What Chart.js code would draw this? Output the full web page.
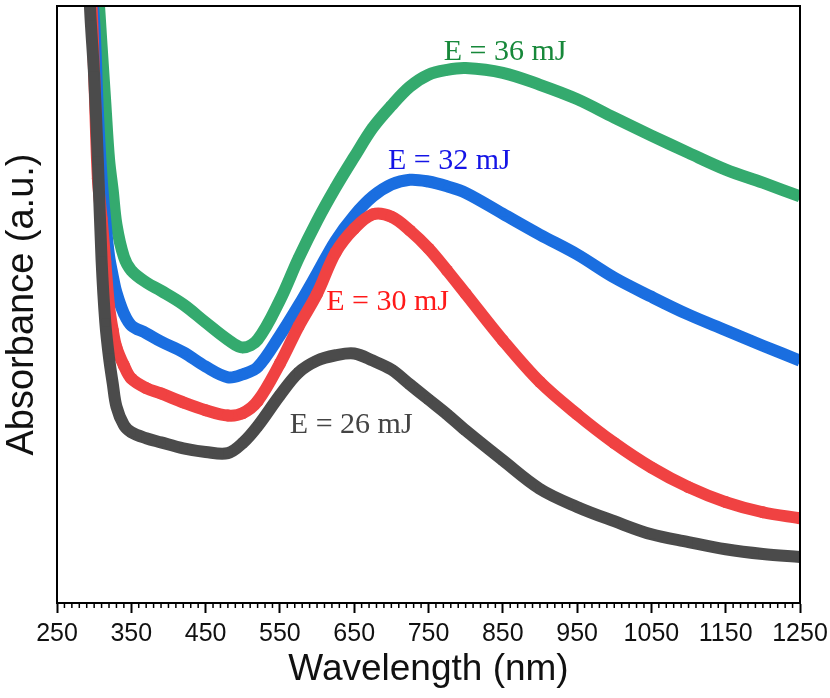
<!DOCTYPE html>
<html>
<head>
<meta charset="utf-8">
<script src="https://cdn.jsdelivr.net/npm/chart.js@4.4.1/dist/chart.umd.min.js"></script>
<style>
  html, body { margin: 0; padding: 0; background: #fff; }
  canvas { display: block; }
</style>
</head>
<body>
<canvas id="uvvis" width="830" height="698"></canvas>
<script>
// wavelength (nm) shared by all spectra
const wavelength = [290, 295, 300, 305, 310, 315, 320, 325, 330, 340, 350, 370, 390, 420, 450, 480, 500, 520, 550, 575,
  600, 625, 650, 675, 700, 725, 750, 775, 800, 850, 900, 950, 1000, 1050, 1100, 1150, 1200, 1250];

// absorbance (a.u.)
const abs26 = [1.109, 0.983, 0.883, 0.741, 0.574, 0.470, 0.411, 0.368, 0.329, 0.298, 0.286, 0.276, 0.269, 0.259, 0.253, 0.251, 0.268, 0.296, 0.348, 0.386,
  0.406, 0.415, 0.418, 0.406, 0.391, 0.366, 0.341, 0.316, 0.289, 0.239, 0.191, 0.161, 0.137, 0.115, 0.102, 0.090, 0.082, 0.077];
const abs30 = [1.075, 1.033, 0.886, 0.711, 0.644, 0.572, 0.498, 0.457, 0.428, 0.398, 0.376, 0.360, 0.351, 0.336, 0.323, 0.314, 0.318, 0.338, 0.401, 0.463,
  0.518, 0.587, 0.627, 0.651, 0.647, 0.624, 0.594, 0.557, 0.518, 0.440, 0.370, 0.316, 0.268, 0.227, 0.194, 0.169, 0.152, 0.142];
const abs32 = [1.109, 1.042, 0.975, 0.824, 0.712, 0.640, 0.582, 0.548, 0.520, 0.485, 0.465, 0.452, 0.438, 0.420, 0.396, 0.378, 0.383, 0.395, 0.448, 0.498,
  0.552, 0.607, 0.649, 0.681, 0.701, 0.709, 0.706, 0.698, 0.687, 0.652, 0.617, 0.584, 0.545, 0.513, 0.483, 0.457, 0.431, 0.406];
const abs36 = [1.176, 1.109, 1.075, 1.025, 0.933, 0.838, 0.744, 0.691, 0.634, 0.580, 0.557, 0.537, 0.523, 0.500, 0.470, 0.441, 0.428, 0.441, 0.507, 0.577,
  0.640, 0.696, 0.747, 0.796, 0.833, 0.865, 0.885, 0.893, 0.896, 0.888, 0.868, 0.844, 0.813, 0.783, 0.754, 0.726, 0.704, 0.681];

const xTicks = [250, 1250, 100];   // min, max, step of labelled ticks
const minorStep = 10;

// curve labels: text, wavelength, absorbance (baseline), colour
const curveLabels = [
  ['E = 36 mJ', 853, 0.910, '#17883a'],
  ['E = 32 mJ', 778, 0.727, '#1414e6'],
  ['E = 30 mJ', 695, 0.490, '#ff1a1a'],
  ['E = 26 mJ', 646, 0.284, '#444444']
];

const pts = (ys) => wavelength.map((x, i) => ({ x: x, y: ys[i] }));

function spectrum(label, ys, color, style, rot) {
  return {
    label: label,
    data: pts(ys),
    borderColor: color,
    backgroundColor: color,
    borderWidth: 12,
    pointRadius: 6,
    pointStyle: style,
    pointRotation: rot,
    pointBorderWidth: 0,
    pointBackgroundColor: color,
    tension: 0.35,
    clip: 0
  };
}

// frame, minor ticks, curve labels
const decor = {
  id: 'decor',
  afterDraw(chart) {
    const { ctx, chartArea: a, scales: { x, y } } = chart;
    ctx.save();
    ctx.strokeStyle = '#000';
    ctx.lineWidth = 2;
    ctx.strokeRect(a.left, a.top, a.right - a.left, a.bottom - a.top);
    ctx.lineWidth = 1.5;
    ctx.beginPath();
    for (let v = xTicks[0]; v <= xTicks[1]; v += minorStep) {
      if ((v - xTicks[0]) % xTicks[2] === 0) continue;
      const px = x.getPixelForValue(v);
      ctx.moveTo(px, a.bottom);
      ctx.lineTo(px, a.bottom + 5);
    }
    ctx.stroke();
    ctx.font = '30px "Liberation Serif", "Times New Roman", serif';
    ctx.textAlign = 'center';
    ctx.textBaseline = 'alphabetic';
    curveLabels.forEach(([t, wx, wy, c]) => {
      ctx.fillStyle = c;
      ctx.fillText(t, x.getPixelForValue(wx), y.getPixelForValue(wy));
    });
    ctx.restore();
  }
};

new Chart(document.getElementById('uvvis'), {
  type: 'line',
  data: {
    datasets: [
      spectrum('E = 26 mJ', abs26, '#4b4b4b', 'rect', 0),
      spectrum('E = 30 mJ', abs30, '#f04242', 'circle', 0),
      spectrum('E = 32 mJ', abs32, '#1a6ee0', 'triangle', 0),
      spectrum('E = 36 mJ', abs36, '#34aa6e', 'triangle', 180)
    ]
  },
  options: {
    responsive: false,
    animation: false,
    devicePixelRatio: 1,
    layout: { padding: { top: 5, right: 30, left: 0, bottom: 0 } },
    plugins: {
      legend: { display: false },
      tooltip: { enabled: false }
    },
    scales: {
      x: {
        type: 'linear',
        min: xTicks[0],
        max: xTicks[1],
        ticks: {
          stepSize: xTicks[2],
          color: '#111',
          padding: 6,
          callback: (v) => String(v),
          font: { family: '"Liberation Sans Narrow", "Arial Narrow", "Liberation Sans", Arial, sans-serif', size: 25 }
        },
        grid: {
          drawOnChartArea: false,
          tickLength: 10,
          tickWidth: 2,
          tickColor: '#000'
        },
        border: { display: true, color: '#000', width: 2 },
        title: {
          display: true,
          text: 'Wavelength (nm)',
          color: '#111',
          padding: { top: 0, bottom: 6 },
          font: { family: '"Liberation Sans", Arial, sans-serif', size: 37 }
        },
        afterFit(scale) {
          scale.height = 95;
          scale.paddingLeft = 0;
          scale.paddingRight = 0;
        }
      },
      y: {
        min: 0,
        max: 1,
        ticks: { display: false },
        grid: { display: false },
        border: { display: true, color: '#000', width: 2 },
        title: {
          display: true,
          text: 'Absorbance (a.u.)',
          color: '#111',
          padding: { top: 0, bottom: 0 },
          font: { family: '"Liberation Sans", Arial, sans-serif', size: 38 }
        },
        afterFit(scale) { scale.width = 57; }
      }
    }
  },
  plugins: [decor]
});
</script>
</body>
</html>
